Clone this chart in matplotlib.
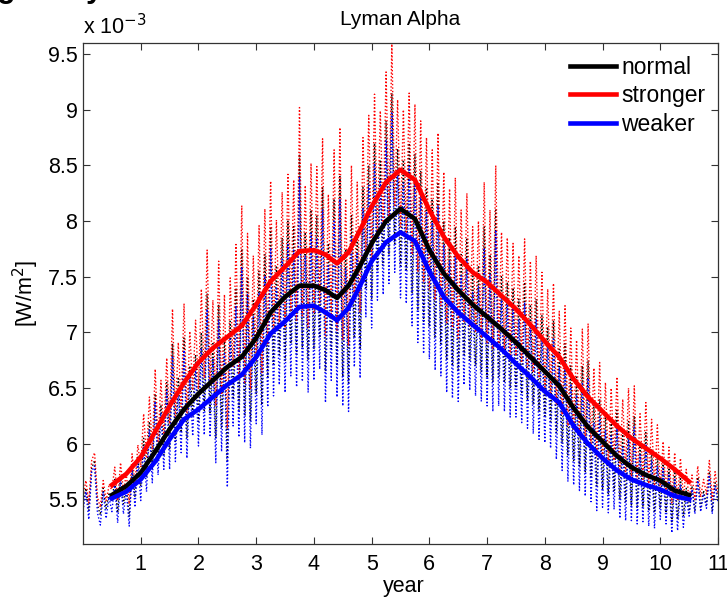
import numpy as np
import matplotlib
matplotlib.use("Agg")
import matplotlib.pyplot as plt
from matplotlib.ticker import FuncFormatter

plt.rcParams['font.family'] = ['Liberation Sans', 'DejaVu Sans']

# smoothed curves (units of 1e-3 W/m^2)
year_smooth = [0.5, 0.75, 1.0, 1.25, 1.5, 1.75, 2.0, 2.25, 2.5, 2.75, 3.0, 3.25, 3.5, 3.75,
               4.0, 4.2, 4.4, 4.6, 4.8, 5.0, 5.25, 5.5, 5.75, 6.0, 6.25, 6.5, 6.75, 7.0,
               7.25, 7.5, 7.75, 8.0, 8.25, 8.5, 8.75, 9.0, 9.25, 9.5, 9.75, 10.0, 10.25, 10.5]
normal_smooth = [5.54, 5.62, 5.74, 5.93, 6.13, 6.31, 6.45, 6.57, 6.69, 6.78, 6.95, 7.18, 7.32, 7.42,
                 7.42, 7.38, 7.31, 7.42, 7.60, 7.80, 8.00, 8.11, 8.02, 7.74, 7.53, 7.38, 7.25, 7.14,
                 7.03, 6.91, 6.78, 6.65, 6.52, 6.32, 6.15, 6.02, 5.89, 5.79, 5.72, 5.67, 5.58, 5.54]
stronger_smooth = [5.63, 5.73, 5.88, 6.11, 6.34, 6.55, 6.73, 6.86, 6.96, 7.06, 7.25, 7.46, 7.59, 7.73,
                   7.74, 7.70, 7.62, 7.72, 7.92, 8.13, 8.35, 8.46, 8.37, 8.10, 7.86, 7.68, 7.54, 7.45,
                   7.33, 7.21, 7.07, 6.92, 6.78, 6.58, 6.42, 6.29, 6.16, 6.05, 5.96, 5.87, 5.77, 5.66]
weaker_smooth = [5.51, 5.57, 5.68, 5.84, 6.04, 6.22, 6.31, 6.42, 6.53, 6.62, 6.78, 6.99, 7.10, 7.23,
                 7.24, 7.18, 7.11, 7.22, 7.42, 7.64, 7.81, 7.90, 7.82, 7.55, 7.32, 7.18, 7.07, 6.96,
                 6.85, 6.72, 6.60, 6.47, 6.37, 6.16, 6.00, 5.87, 5.76, 5.68, 5.63, 5.59, 5.53, 5.50]

# raw (noisy) series, one value every 0.05 year from 0 to 11
normal_raw = [
    5.46, 5.60, 5.40, 5.78, 5.85, 5.45, 5.36, 5.60, 5.42, 5.55,
    5.48, 5.68, 5.38, 5.72, 5.46, 5.62, 5.35, 5.80, 5.52, 5.88,
    5.62, 6.05, 5.70, 6.20, 5.78, 6.45, 5.85, 6.35, 5.90, 6.55,
    5.95, 6.90, 6.02, 6.60, 6.10, 6.95, 6.05, 6.70, 6.25, 6.80,
    6.20, 7.00, 6.30, 7.35, 6.28, 6.90, 6.05, 7.25, 6.15, 6.95,
    5.85, 7.10, 6.40, 7.40, 6.30, 7.75, 6.25, 7.50, 6.20, 7.30,
    6.45, 7.55, 6.35, 7.70, 6.60, 7.95, 6.70, 7.60, 6.80, 7.85,
    6.75, 8.00, 6.90, 7.95, 6.80, 8.60, 6.85, 7.90, 6.75, 8.10,
    6.85, 8.05, 6.95, 8.30, 6.65, 7.80, 6.85, 8.20, 6.70, 8.40,
    6.60, 7.75, 6.55, 8.05, 6.95, 7.90, 6.85, 8.30, 7.40, 8.50,
    7.30, 8.70, 7.55, 8.55, 7.60, 8.90, 7.70, 9.15, 7.80, 8.65,
    7.60, 8.55, 7.55, 8.70, 7.35, 8.60, 7.20, 8.45, 7.10, 8.30,
    7.05, 8.20, 6.95, 8.35, 6.90, 8.00, 6.75, 7.85, 6.70, 7.95,
    6.65, 7.70, 6.80, 7.85, 6.75, 7.55, 6.70, 7.60, 6.65, 7.95,
    6.60, 7.70, 6.55, 8.10, 6.60, 7.50, 6.55, 7.45, 6.50, 7.40,
    6.50, 7.30, 6.45, 7.45, 6.40, 7.25, 6.35, 7.30, 6.30, 7.15,
    6.25, 7.05, 6.20, 7.10, 6.10, 6.85, 6.00, 6.90, 5.90, 6.70,
    5.85, 6.60, 5.80, 6.70, 5.75, 6.75, 5.70, 6.35, 5.62, 6.40,
    5.60, 6.25, 5.55, 6.20, 5.58, 6.30, 5.50, 6.10, 5.48, 6.20,
    5.45, 6.25, 5.42, 6.00, 5.44, 6.10, 5.40, 5.95, 5.38, 5.90,
    5.42, 5.85, 5.38, 5.80, 5.30, 5.75, 5.32, 5.70, 5.35, 5.60,
    5.38, 5.62, 5.40, 5.70, 5.42, 5.58, 5.45, 5.75, 5.40, 5.65,
    5.50]
stronger_raw = [
    5.53, 5.67, 5.47, 5.85, 5.92, 5.52, 5.43, 5.67, 5.49, 5.62,
    5.59, 5.79, 5.49, 5.83, 5.57, 5.73, 5.46, 5.91, 5.63, 5.99,
    5.79, 6.27, 5.87, 6.42, 5.95, 6.67, 6.02, 6.57, 6.07, 6.77,
    6.18, 7.21, 6.25, 6.91, 6.33, 7.26, 6.28, 7.01, 6.48, 7.11,
    6.49, 7.39, 6.59, 7.74, 6.57, 7.29, 6.34, 7.64, 6.44, 7.34,
    6.14, 7.49, 6.69, 7.79, 6.59, 8.14, 6.54, 7.89, 6.49, 7.69,
    6.74, 7.96, 6.64, 8.11, 6.89, 8.36, 6.99, 8.01, 7.09, 8.26,
    7.05, 8.42, 7.20, 8.37, 7.10, 9.02, 7.15, 8.32, 7.05, 8.52,
    7.17, 8.49, 7.27, 8.74, 6.97, 8.24, 7.17, 8.64, 7.02, 8.84,
    6.93, 8.20, 6.88, 8.50, 7.28, 8.35, 7.18, 8.75, 7.73, 8.95,
    7.64, 9.14, 7.89, 8.99, 7.94, 9.34, 8.04, 9.59, 8.14, 9.09,
    7.95, 9.00, 7.90, 9.15, 7.70, 9.05, 7.55, 8.90, 7.45, 8.75,
    7.39, 8.64, 7.29, 8.79, 7.24, 8.44, 7.09, 8.29, 7.04, 8.39,
    6.95, 8.10, 7.10, 8.25, 7.05, 7.95, 7.00, 8.00, 6.95, 8.35,
    6.90, 8.10, 6.85, 8.50, 6.90, 7.90, 6.85, 7.85, 6.80, 7.80,
    6.79, 7.69, 6.74, 7.84, 6.69, 7.64, 6.64, 7.69, 6.59, 7.54,
    6.51, 7.39, 6.46, 7.44, 6.36, 7.19, 6.26, 7.24, 6.16, 7.04,
    6.12, 6.93, 6.07, 7.03, 6.02, 7.08, 5.97, 6.68, 5.89, 6.73,
    5.87, 6.55, 5.82, 6.50, 5.85, 6.60, 5.77, 6.40, 5.75, 6.50,
    5.69, 6.52, 5.66, 6.27, 5.68, 6.37, 5.64, 6.22, 5.62, 6.17,
    5.59, 6.02, 5.55, 5.97, 5.47, 5.92, 5.49, 5.87, 5.52, 5.77,
    5.48, 5.72, 5.50, 5.80, 5.52, 5.68, 5.55, 5.85, 5.50, 5.75,
    5.55]
weaker_raw = [
    5.40, 5.57, 5.32, 5.75, 5.80, 5.38, 5.27, 5.57, 5.33, 5.52,
    5.39, 5.64, 5.29, 5.68, 5.37, 5.58, 5.26, 5.76, 5.43, 5.84,
    5.49, 5.98, 5.57, 6.13, 5.65, 6.38, 5.72, 6.28, 5.77, 6.48,
    5.77, 6.79, 5.84, 6.49, 5.92, 6.84, 5.87, 6.59, 6.07, 6.69,
    5.98, 6.86, 6.08, 7.21, 6.06, 6.76, 5.83, 7.11, 5.93, 6.81,
    5.61, 6.94, 6.16, 7.24, 6.06, 7.59, 6.01, 7.34, 5.96, 7.14,
    6.18, 7.36, 6.08, 7.51, 6.33, 7.76, 6.43, 7.41, 6.53, 7.66,
    6.46, 7.79, 6.61, 7.74, 6.51, 8.39, 6.56, 7.69, 6.46, 7.89,
    6.57, 7.85, 6.67, 8.10, 6.37, 7.60, 6.57, 8.00, 6.42, 8.20,
    6.34, 7.57, 6.29, 7.87, 6.69, 7.72, 6.59, 8.12, 7.14, 8.32,
    7.04, 8.52, 7.29, 8.37, 7.34, 8.72, 7.44, 8.97, 7.54, 8.47,
    7.31, 8.34, 7.26, 8.49, 7.06, 8.39, 6.91, 8.24, 6.81, 8.09,
    6.76, 7.99, 6.66, 8.14, 6.61, 7.79, 6.46, 7.64, 6.41, 7.74,
    6.38, 7.51, 6.53, 7.66, 6.48, 7.36, 6.43, 7.41, 6.38, 7.76,
    6.34, 7.52, 6.29, 7.92, 6.34, 7.32, 6.29, 7.27, 6.24, 7.22,
    6.24, 7.12, 6.19, 7.27, 6.14, 7.07, 6.09, 7.12, 6.04, 6.97,
    6.01, 6.89, 5.96, 6.94, 5.86, 6.69, 5.76, 6.74, 5.66, 6.54,
    5.63, 6.44, 5.58, 6.54, 5.53, 6.59, 5.48, 6.19, 5.40, 6.24,
    5.43, 6.12, 5.38, 6.07, 5.41, 6.17, 5.33, 5.97, 5.31, 6.07,
    5.31, 6.15, 5.28, 5.90, 5.30, 6.00, 5.26, 5.85, 5.24, 5.80,
    5.32, 5.78, 5.28, 5.73, 5.20, 5.68, 5.22, 5.63, 5.25, 5.53,
    5.35, 5.59, 5.37, 5.67, 5.39, 5.55, 5.42, 5.72, 5.37, 5.62,
    5.48]
year_raw = np.linspace(0, 11, len(normal_raw))

fig = plt.figure(figsize=(7.27, 5.97), dpi=100)
ax = fig.add_axes([0.1142, 0.0888, 0.8734, 0.8392])

dots = (0, (1, 1.5))
ax.plot(year_raw, normal_raw, color='k', lw=1.0, ls=dots)
ax.plot(year_raw, stronger_raw, color='r', lw=1.0, ls=dots)
ax.plot(year_raw, weaker_raw, color='b', lw=1.0, ls=dots)

ax.plot(year_smooth, normal_smooth, color='k', lw=3.3, label='normal')
ax.plot(year_smooth, stronger_smooth, color='r', lw=3.3, label='stronger')
ax.plot(year_smooth, weaker_smooth, color='b', lw=3.3, label='weaker')

ax.set_xlim(0, 11)
ax.set_ylim(5.1, 9.6)
ax.set_xticks(range(1, 12))
ax.set_yticks(np.arange(5.5, 9.51, 0.5))
ax.yaxis.set_major_formatter(FuncFormatter(lambda v, p: '%g' % v))
ax.tick_params(direction='in', length=5, width=0.8, top=True, right=True,
               labelsize=15.5, colors='#333333', labelcolor='black')
ax.tick_params(axis='x', pad=7)
ax.tick_params(axis='y', pad=4)
for s in ax.spines.values():
    s.set_color('#333333')
    s.set_linewidth(0.9)

ax.set_title('Lyman Alpha', fontsize=15, pad=13)
ax.set_xlabel('year', fontsize=15.5)
ax.set_ylabel('[W/m$^2$]', fontsize=15.5)
ax.xaxis.set_label_coords(0.505, -0.063)
ax.yaxis.set_label_coords(-0.066, 0.5)
ax.text(0.0, 1.017, 'x 10$^{-3}$', transform=ax.transAxes, fontsize=15.5,
        ha='left', va='baseline')

ax.legend(loc='upper right', frameon=False, fontsize=16.5, handlelength=2.0,
          labelspacing=0.25, handletextpad=0.25, borderaxespad=0.15)

# cut-off caption fragment at the very top of the page
fig.text(-0.004, 1 - 4 / 597, 'g', fontsize=22, fontweight='bold', ha='left', va='bottom')
fig.text(0.118, 1 - 4 / 597, 'y', fontsize=22, fontweight='bold', ha='left', va='bottom')

fig.savefig('out.png', dpi=100)
